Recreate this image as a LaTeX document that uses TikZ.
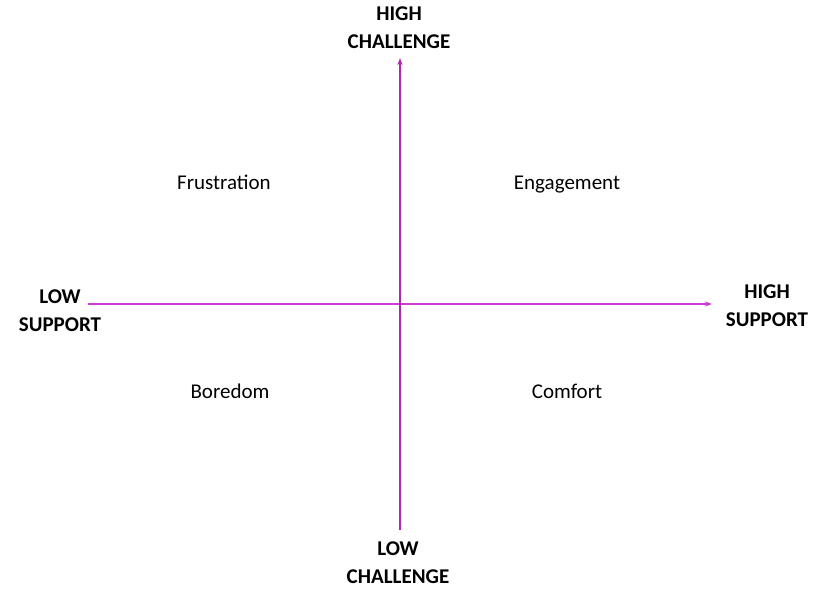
\documentclass[tikz,border=0pt]{standalone}
\usepackage{fontspec}
\setmainfont{Carlito}
\usetikzlibrary{arrows.meta}
\definecolor{axisv}{RGB}{175,40,180}
\definecolor{axish}{RGB}{205,60,210}
\begin{document}
\begin{tikzpicture}[x=1pt,y=-1pt,
  axislabel/.style={font=\fontsize{21}{28}\selectfont\bfseries, align=center, inner sep=0pt},
  quadlabel/.style={font=\fontsize{21}{25}\selectfont, inner sep=0pt, text height=1.5ex, text depth=.25ex},
  axisarrow/.style={-{Stealth[length=7pt,width=5pt]}, line width=1.4pt}]
\useasboundingbox[fill=white] (0,0) rectangle (825,589);
\coordinate (vb) at (400,530);
\coordinate (vt) at (400,58);
\coordinate (hl) at (88,304);
\coordinate (hr) at (712,304);
\draw[axisarrow, axish, line width=1.2pt] (hl) -- (hr);
\draw[axisarrow, axisv] (vb) -- (vt);
\node[axislabel] (hc) at (399,28) {HIGH\\CHALLENGE};
\node[axislabel] (lc) at (398,563) {LOW\\CHALLENGE};
\node[axislabel] (ls) at (60,311) {LOW\\SUPPORT};
\node[axislabel] (hs) at (767,306) {HIGH\\SUPPORT};
\node[quadlabel] (fr) at (224,187) {Frustration};
\node[quadlabel] (en) at (567,187) {Engagement};
\node[quadlabel] (bo) at (230,396) {Boredom};
\node[quadlabel] (co) at (567,396) {Comfort};
\end{tikzpicture}
\end{document}
